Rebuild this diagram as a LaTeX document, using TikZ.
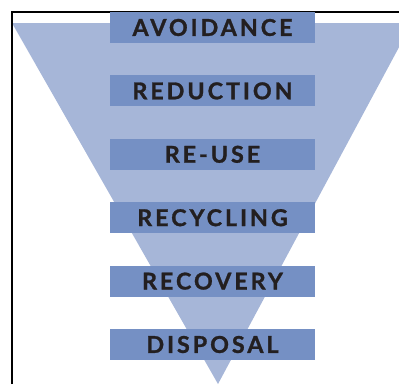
\documentclass[tikz,border=0pt]{standalone}
\usepackage{fontspec}
\newfontfamily\levelfont[LetterSpace=13,BoldFeatures={FakeBold=1.2}]{Lato}
\usetikzlibrary{
  calc,
}
\definecolor{funnelblue}{RGB}{166,182,216}
\definecolor{barblue}{RGB}{117,144,196}
\definecolor{inkgray}{RGB}{35,31,32}

\begin{document}
\begin{tikzpicture}[x=0.025cm,y=-0.025cm,
    levelbar/.style={fill=barblue, inner sep=0pt, minimum width=5.125cm,
        minimum height=0.775cm, text=inkgray,
        font=\levelfont\bfseries\fontsize{16.5}{16.5}\selectfont},
  ]
  \useasboundingbox (0,0) rectangle (399,384);

  % funnel
  \coordinate (tl) at (12,23);
  \coordinate (tr) at (412,23);
  \coordinate (apex) at (218,384);
  \begin{scope}
    \clip (0,0) rectangle (399,384);
    \fill[funnelblue] (tl) -- (tr) -- (apex) -- cycle;
    \draw[line width=1.4pt] (12,384) -- (12,12) -- (399,12);
  \end{scope}

  % levels
  \foreach \lbl [count=\i] in {AVOIDANCE,REDUCTION,RE-USE,RECYCLING,RECOVERY,DISPOSAL}{
      \node[levelbar] (lvl\i) at (212.5,{27.5+63.4*(\i-1)}) {\lbl};
    }
\end{tikzpicture}
\end{document}
